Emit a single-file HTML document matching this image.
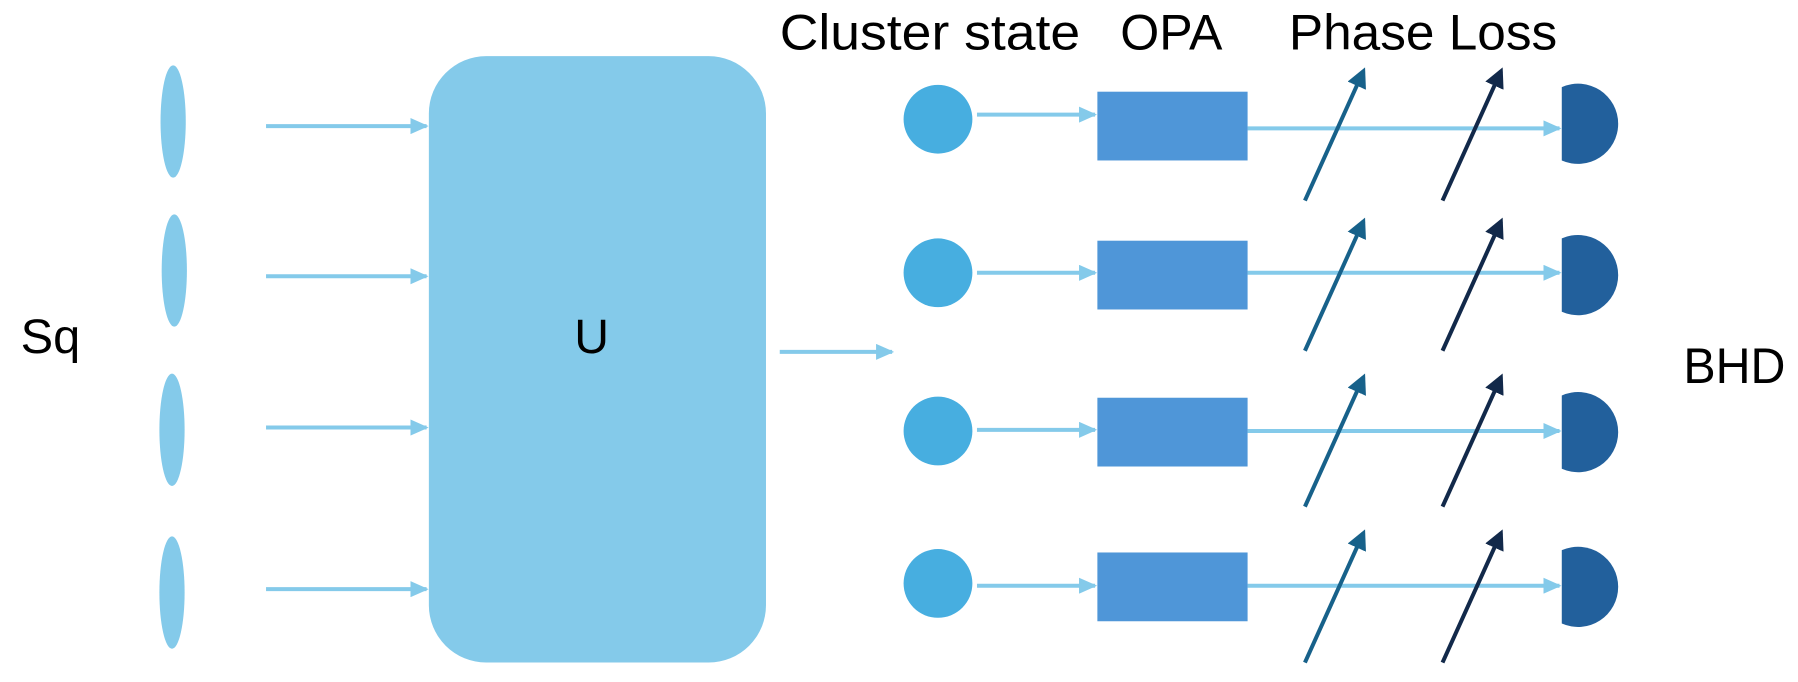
<!DOCTYPE html>
<html><head><meta charset="utf-8"><style>
html,body{margin:0;padding:0;background:#fff;}
svg{display:block;}
text{font-family:"Liberation Sans",sans-serif;fill:#000;}
</style></head><body>
<svg width="1798" height="682" viewBox="0 0 1568 595" preserveAspectRatio="none">
<defs>
<marker id="a" markerWidth="4.5" markerHeight="4" refX="4" refY="2" orient="auto" markerUnits="strokeWidth"><path d="M0,0 L4.5,2 L0,4 z" fill="#84caea"/></marker>
<marker id="b" markerWidth="5" markerHeight="5" refX="4" refY="2.5" orient="auto" markerUnits="strokeWidth"><path d="M0,0 L5,2.5 L0,5 z" fill="#17618a"/></marker>
<marker id="c" markerWidth="5" markerHeight="5" refX="4" refY="2.5" orient="auto" markerUnits="strokeWidth"><path d="M0,0 L5,2.5 L0,5 z" fill="#12294a"/></marker>
</defs>
<text x="18" y="308" font-size="42" textLength="52" lengthAdjust="spacingAndGlyphs">Sq</text>
<g fill="#84caea">
<ellipse cx="151" cy="106" rx="11" ry="49"/>
<ellipse cx="152" cy="236" rx="11" ry="49"/>
<ellipse cx="150" cy="375" rx="11" ry="49"/>
<ellipse cx="150" cy="517" rx="11" ry="49"/>
<rect x="374" y="49" width="294" height="529" rx="50" ry="50"/>
</g>
<g stroke="#84caea" stroke-width="3.5" marker-end="url(#a)">
<line x1="232" y1="110" x2="372" y2="110"/>
<line x1="232" y1="241" x2="372" y2="241"/>
<line x1="232" y1="373" x2="372" y2="373"/>
<line x1="232" y1="514" x2="372" y2="514"/>
<line x1="680" y1="307" x2="778" y2="307"/>
<line x1="852" y1="100" x2="955" y2="100"/>
<line x1="852" y1="238" x2="955" y2="238"/>
<line x1="852" y1="375" x2="955" y2="375"/>
<line x1="852" y1="511" x2="955" y2="511"/>
<line x1="1088" y1="112" x2="1360" y2="112"/>
<line x1="1088" y1="238" x2="1360" y2="238"/>
<line x1="1088" y1="376" x2="1360" y2="376"/>
<line x1="1088" y1="511" x2="1360" y2="511"/>
</g>
<text x="516" y="308" font-size="42" text-anchor="middle">U</text>
<text x="680" y="43" font-size="44" textLength="262" lengthAdjust="spacingAndGlyphs">Cluster state</text>
<text x="977" y="43" font-size="44" textLength="89" lengthAdjust="spacingAndGlyphs">OPA</text>
<text x="1124" y="43" font-size="44" textLength="234" lengthAdjust="spacingAndGlyphs">Phase Loss</text>
<text x="1468" y="334" font-size="44" textLength="89" lengthAdjust="spacingAndGlyphs">BHD</text>
<g fill="#47aee0">
<circle cx="818" cy="104" r="30"/><circle cx="818" cy="238" r="30"/>
<circle cx="818" cy="376" r="30"/><circle cx="818" cy="509" r="30"/>
</g>
<g fill="#4f96d8">
<rect x="957" y="80" width="131" height="60"/><rect x="957" y="210" width="131" height="60"/>
<rect x="957" y="347" width="131" height="60"/><rect x="957" y="482" width="131" height="60"/>
</g>
<g fill="#22609c">
<path d="M1362,76 A35,35 0 1 1 1362,140 Z"/>
<path d="M1362,208 A35,35 0 1 1 1362,272 Z"/>
<path d="M1362,345 A35,35 0 1 1 1362,409 Z"/>
<path d="M1362,480 A35,35 0 1 1 1362,544 Z"/>
</g>
<g stroke-width="3.5">
<g stroke="#17618a" marker-end="url(#b)">
<line x1="1138" y1="175" x2="1189" y2="62"/>
<line x1="1138" y1="306" x2="1189" y2="193"/>
<line x1="1138" y1="442" x2="1189" y2="329"/>
<line x1="1138" y1="578" x2="1189" y2="465"/>
</g>
<g stroke="#12294a" marker-end="url(#c)">
<line x1="1258" y1="175" x2="1309" y2="62"/>
<line x1="1258" y1="306" x2="1309" y2="193"/>
<line x1="1258" y1="442" x2="1309" y2="329"/>
<line x1="1258" y1="578" x2="1309" y2="465"/>
</g>
</g>
</svg>
</body></html>
